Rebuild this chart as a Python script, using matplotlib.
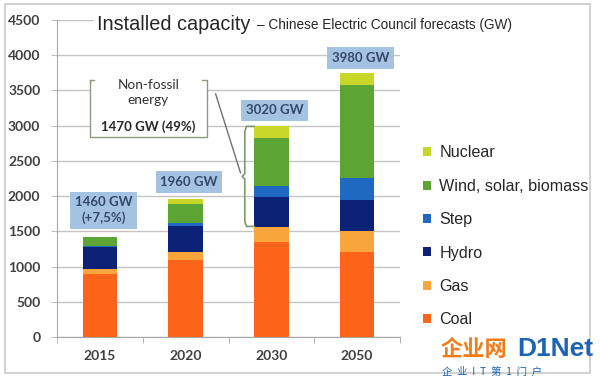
"""
Installed capacity forecast - stacked bars by energy source
"""

import matplotlib.pyplot as plt
import numpy as np
from matplotlib.patches import Rectangle

# Data (GW)
years = ['2015', '2020', '2030', '2050']
coal = [900, 1100, 1350, 1200]
gas = [65, 100, 210, 300]
hydro = [310, 380, 430, 450]
step = [15, 40, 150, 310]
wind = [130, 270, 680, 1320]
nuclear = [0, 70, 180, 170]

series_names = ['Coal', 'Gas', 'Hydro', 'Step', 'Wind, solar, biomass', 'Nuclear']
series_values = [coal, gas, hydro, step, wind, nuclear]
series_colors = ['#fb6419', '#f8a53b', '#0b2277', '#1f69c3', '#5ca535', '#c8d62a']

total_labels = ['1460 GW\n(+7,5%)', '1960 GW', '3020 GW', '3980 GW']
label_gap = [380, 240, 220, 210]

nonfossil_text = '1470 GW (49%)'

plt.rcParams['font.family'] = ['Liberation Sans', 'DejaVu Sans']
tick_font = 'Lato'

fig = plt.figure(figsize=(6.0, 3.77), dpi=100)
ax = fig.add_axes([57 / 600, 1 - 337 / 377, 343 / 600, 317 / 377])

# outer frame
fig.patches.append(Rectangle((5 / 600, 4 / 377), 585 / 600, 369 / 377,
                             transform=fig.transFigure, fill=False,
                             edgecolor='#c9c9c9', lw=1.2, zorder=0))

x = np.arange(len(years))
bottom = np.zeros(len(years))
handles = []
for name, vals, col in zip(series_names, series_values, series_colors):
    b = ax.bar(x, vals, width=0.4, bottom=bottom, color=col, label=name,
               zorder=3)
    handles.append(b)
    bottom = bottom + np.array(vals)

ax.set_xlim(-0.5, 3.5)
ax.set_ylim(0, 4500)
ax.set_yticks(np.arange(0, 4501, 500))
ax.set_xticks(x)
ax.set_xticklabels(years)
ax.set_xticks(np.arange(-0.5, 3.6, 1), minor=True)
ax.tick_params(axis='x', which='major', length=0, pad=9)
ax.tick_params(axis='x', which='minor', length=4, color='#a6a6a6')
ax.tick_params(axis='y', length=4, color='#bfbfbf', pad=8)
for lab in ax.get_xticklabels() + ax.get_yticklabels():
    lab.set_fontfamily(tick_font)
    lab.set_fontsize(10)
    lab.set_color('#404040')
    lab.set_fontweight('bold')

ax.grid(axis='y', color='#c4c4c4', lw=1, zorder=0)
for s in ['top', 'right']:
    ax.spines[s].set_visible(False)
ax.spines['left'].set_color('#a6a6a6')
ax.spines['bottom'].set_color('#a6a6a6')

# title
fig.text(97 / 600, 1 - 24 / 377, 'Installed capacity', fontsize=14.3,
         color='#262626', va='center', ha='left',
         bbox=dict(facecolor='white', edgecolor='none', pad=2))
fig.text(257 / 600, 1 - 25 / 377, '\u2013 Chinese Electric Council forecasts (GW)',
         fontsize=9.8, color='#262626', va='center', ha='left',
         bbox=dict(facecolor='white', edgecolor='none', pad=2))

# total labels in blue boxes
for i, (txt, gap) in enumerate(zip(total_labels, label_gap)):
    ax.text(x[i] + 0.04, bottom[i] + gap, txt, ha='center', va='center',
            fontsize=9.5, fontfamily=tick_font, fontweight='bold',
            color='#344a66', linespacing=1.3, zorder=5,
            bbox=dict(facecolor='#a4c2e2', edgecolor='none',
                      boxstyle='square,pad=0.35'))

# non-fossil box
bx0, bx1, by0, by1 = -0.116, 1.244, 2840, 3650
ax.add_patch(Rectangle((bx0, by0), bx1 - bx0, by1 - by0, facecolor='white',
                       edgecolor='none', zorder=4))
bc = '#8a9a80'
ax.plot([bx0 + 0.05, bx0, bx0, bx1, bx1, bx1 - 0.05],
        [by1, by1, by0, by0, by1, by1], color=bc, lw=1, zorder=5)
ax.plot([bx0, bx0], [by1, by1 - 40], color=bc, lw=1, zorder=5)
ax.text((bx0 + bx1) / 2, 3470, 'Non-fossil\nenergy', ha='center',
        va='center', fontsize=9.8, fontfamily=tick_font, color='#333333',
        linespacing=1.25, zorder=6)
ax.text((bx0 + bx1) / 2, 2990, nonfossil_text, ha='center', va='center',
        fontsize=9.5, fontfamily=tick_font, fontweight='bold',
        color='#262626', zorder=6)
ax.plot([1.35, 1.64], [3450, 2330], color='#707070', lw=1, zorder=5)

# bracket around non-fossil part of 2030 bar
nf_lo = coal[2] + gas[2]
nf_hi = bottom[2]
ax.plot([1.8, 1.71, 1.69, 1.69, 1.66, 1.69, 1.69, 1.71, 1.8],
        [nf_hi - 10, nf_hi - 10, nf_hi - 80, (nf_lo + nf_hi) / 2 + 40,
         (nf_lo + nf_hi) / 2, (nf_lo + nf_hi) / 2 - 40, nf_lo + 80,
         nf_lo + 10, nf_lo + 10],
        color='#7f9a6a', lw=1.2, zorder=5, solid_joinstyle='round')

# legend, nuclear on top
fig.legend(handles[::-1], series_names[::-1], loc='upper left',
           bbox_to_anchor=(408 / 600, 1 - 131 / 377), frameon=False,
           fontsize=11.6, handlelength=0.5, handleheight=0.5,
           handletextpad=0.55, labelspacing=1.14, labelcolor='#262626')

# watermark
fig.text(441 / 600, 1 - 349 / 377, '企业网', fontsize=16, color='#f07d1a',
         fontfamily=['Noto Sans CJK SC'], fontweight='bold', va='center')
fig.text(517 / 600, 1 - 349 / 377, 'D1Net', fontsize=19, color='#1e64b4',
         fontweight='bold', va='center')
fig.text(442 / 600, 1 - 372 / 377, '企  业  I  T  第  1  门  户', fontsize=7.5,
         color='#1e64b4', fontfamily=['Noto Sans CJK SC'], va='center')

fig.savefig('out.png', dpi=100)
